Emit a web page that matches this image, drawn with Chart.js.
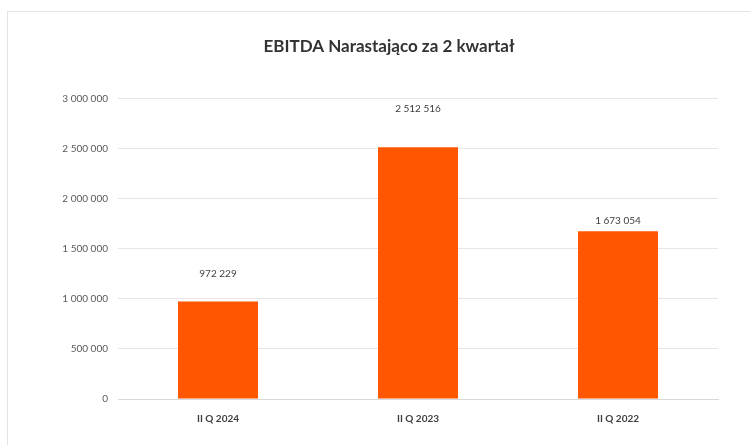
<!DOCTYPE html>
<html lang="pl">
<head>
<meta charset="utf-8">
<title>EBITDA Narastająco za 2 kwartał</title>
<script src="https://cdn.jsdelivr.net/npm/chart.js@4.4.3/dist/chart.umd.min.js"></script>
<style>
  *{box-sizing:border-box;margin:0;padding:0}
  html,body{width:750px;height:445px;overflow:hidden;background:#fff}
  .frame{position:absolute;left:7px;top:11px;width:764px;height:440px;border:1px solid #E3E3E3}
  .frame canvas{position:absolute;left:0;top:0}
</style>
</head>
<body>
<div class="frame"><canvas id="c" width="762" height="433"></canvas></div>
<script>
// dane
const categories = ['II Q 2024', 'II Q 2023', 'II Q 2022']
const ebitda = [972229, 2512516, 1673054]
const yTicks = [0, 500000, 1000000, 1500000, 2000000, 2500000, 3000000]

// odstep etykiety nad slupkiem (px), w Excelu etykiety byly przesuniete recznie
const labelGap = [28, 38, 11]

const FONT = 'Lato, "Open Sans", sans-serif'

function fmt(v) {
  return String(Math.round(v)).replace(/\B(?=(\d{3})+(?!\d))/g, '\u00a0')
}

const valueLabels = {
  id: 'valueLabels',
  afterDatasetsDraw(chart) {
    const ctx = chart.ctx
    const meta = chart.getDatasetMeta(0)
    ctx.save()
    ctx.font = '10px ' + FONT
    ctx.fillStyle = '#404040'
    ctx.textAlign = 'center'
    ctx.textBaseline = 'middle'
    meta.data.forEach((bar, i) => {
      ctx.fillText(fmt(ebitda[i]), bar.x, bar.y - labelGap[i])
    })
    ctx.restore()
  }
}

new Chart(document.getElementById('c'), {
  type: 'bar',
  data: {
    labels: categories,
    datasets: [{
      data: ebitda,
      backgroundColor: '#FF5700',
      borderWidth: 0,
      barPercentage: 0.4,
      categoryPercentage: 1
    }]
  },
  options: {
    responsive: false,
    animation: false,
    layout: { padding: 0 },
    plugins: {
      legend: { display: false },
      tooltip: { enabled: false },
      title: {
        display: true,
        text: 'EBITDA Narastająco za 2 kwartał',
        color: '#333333',
        font: { family: FONT, size: 17, weight: 'bold', lineHeight: 1.2 },
        padding: { top: 24, bottom: 42 }
      }
    },
    scales: {
      x: {
        grid: { display: false },
        border: { display: true, color: '#D9D9D9', width: 1 },
        ticks: { color: '#404040', padding: 6, font: { family: FONT, size: 10, weight: 'bold' } },
        afterFit: s => { s.height = 46 }
      },
      y: {
        min: 0,
        max: 3000000,
        afterBuildTicks: s => { s.ticks = yTicks.map(v => ({ value: v })) },
        grid: { color: '#E6E6E6', drawTicks: false },
        border: { display: false },
        ticks: { color: '#595959', padding: 10, font: { family: FONT, size: 10 }, callback: v => fmt(v) },
        afterFit: s => { s.width = 110 }
      },
      // pusty margines z prawej, zeby tytul byl wysrodkowany na calym obszarze wykresu
      yRight: {
        position: 'right',
        display: true,
        grid: { display: false, drawTicks: false },
        border: { display: false },
        ticks: { display: false },
        afterFit: s => { s.width = 52 }
      }
    }
  },
  plugins: [valueLabels]
})
</script>
</body>
</html>
